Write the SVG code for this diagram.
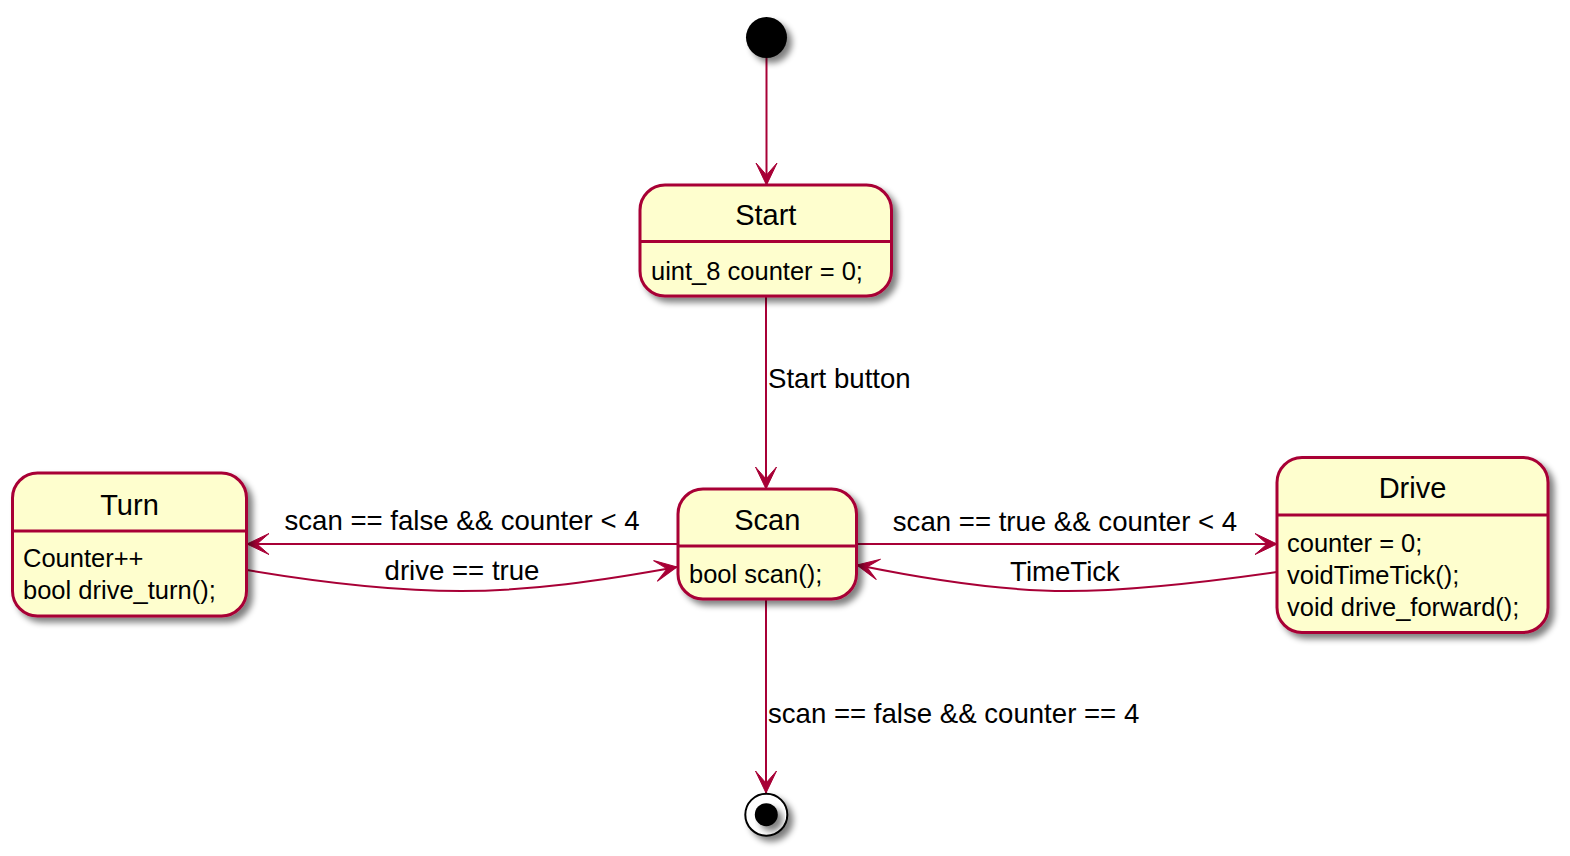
<svg xmlns="http://www.w3.org/2000/svg" width="1570" height="856" viewBox="0 0 1570 856">
<defs>
<filter id="sh" x="-20%" y="-20%" width="150%" height="150%">
<feGaussianBlur in="SourceAlpha" stdDeviation="3"/>
<feOffset dx="5" dy="5" result="b"/>
<feComponentTransfer><feFuncA type="linear" slope="0.5"/></feComponentTransfer>
<feMerge><feMergeNode/><feMergeNode in="SourceGraphic"/></feMerge>
</filter>
<marker id="ah" markerUnits="userSpaceOnUse" markerWidth="30" markerHeight="30" refX="0" refY="0" orient="auto" overflow="visible">
<path d="M0,0 L-22,-10.5 L-10,0 L-22,10.5 Z" fill="#A80036" stroke="#A80036" stroke-width="1"/>
</marker>
</defs>
<style>
.box{fill:#FEFECE;stroke:#A80036;stroke-width:3}
.div{stroke:#A80036;stroke-width:3}
.ln{fill:none;stroke:#A80036;stroke-width:2;marker-end:url(#ah)}
text{font-family:"Liberation Sans",Arial,sans-serif;fill:#000}
.t{font-size:29px;text-anchor:middle}
.a{font-size:25.5px}
.l{font-size:27.6px}
.lm{font-size:27.6px;text-anchor:middle}
</style>
<rect width="1570" height="856" fill="#fff"/>
<g id="connectors">
<path class="ln" d="M766.5,58 L766.5,185"/>
<path class="ln" d="M766,296 L766,489"/>
<text class="l" x="768" y="388">Start button</text>
<path class="ln" d="M678,544 L247,544"/>
<text class="lm" x="462" y="530">scan == false &amp;&amp; counter &lt; 4</text>
<path class="ln" d="M247,570 C330,584 400,591 461,591 C530,591 600,581 677,567"/>
<text class="lm" x="462" y="580">drive == true</text>
<path class="ln" d="M857,544 L1277,544"/>
<text class="lm" x="1065" y="531">scan == true &amp;&amp; counter &lt; 4</text>
<path class="ln" d="M1277,572 C1200,583 1130,591 1067,591 C1000,591 930,580 857,565"/>
<text class="lm" x="1065" y="581">TimeTick</text>
<path class="ln" d="M766,599 L766,793"/>
<text class="l" x="768" y="723">scan == false &amp;&amp; counter == 4</text>
</g>
<g id="initial">
<circle cx="766.5" cy="37.5" r="20.5" fill="#000" filter="url(#sh)"/>
</g>
<g id="start">
<rect class="box" x="640" y="185" width="251.5" height="111" rx="25" ry="25" filter="url(#sh)"/>
<line class="div" x1="640" y1="241.5" x2="891.5" y2="241.5"/>
<text class="t" x="765.8" y="225">Start</text>
<text class="a" x="651" y="280">uint_8 counter = 0;</text>
</g>
<g id="scan">
<rect class="box" x="678" y="489" width="178.5" height="110" rx="25" ry="25" filter="url(#sh)"/>
<line class="div" x1="678" y1="546" x2="856.5" y2="546"/>
<text class="t" x="767.3" y="530">Scan</text>
<text class="a" x="689" y="583">bool scan();</text>
</g>
<g id="turn">
<rect class="box" x="12.5" y="473" width="234" height="143" rx="25" ry="25" filter="url(#sh)"/>
<line class="div" x1="12.5" y1="531" x2="246.5" y2="531"/>
<text class="t" x="129.5" y="515">Turn</text>
<text class="a" x="23" y="567">Counter++</text>
<text class="a" x="23" y="599">bool drive_turn();</text>
</g>
<g id="drive">
<rect class="box" x="1277" y="457.5" width="271" height="175" rx="25" ry="25" filter="url(#sh)"/>
<line class="div" x1="1277" y1="515" x2="1548" y2="515"/>
<text class="t" x="1412.5" y="498">Drive</text>
<text class="a" x="1287" y="552">counter = 0;</text>
<text class="a" x="1287" y="584">voidTimeTick();</text>
<text class="a" x="1287" y="616">void drive_forward();</text>
</g>
<g id="end">
<circle cx="766.3" cy="814.7" r="21" fill="#fff" stroke="#000" stroke-width="2" filter="url(#sh)"/>
<circle cx="766.3" cy="814.7" r="11.5" fill="#000" filter="url(#sh)"/>
</g>
</svg>
